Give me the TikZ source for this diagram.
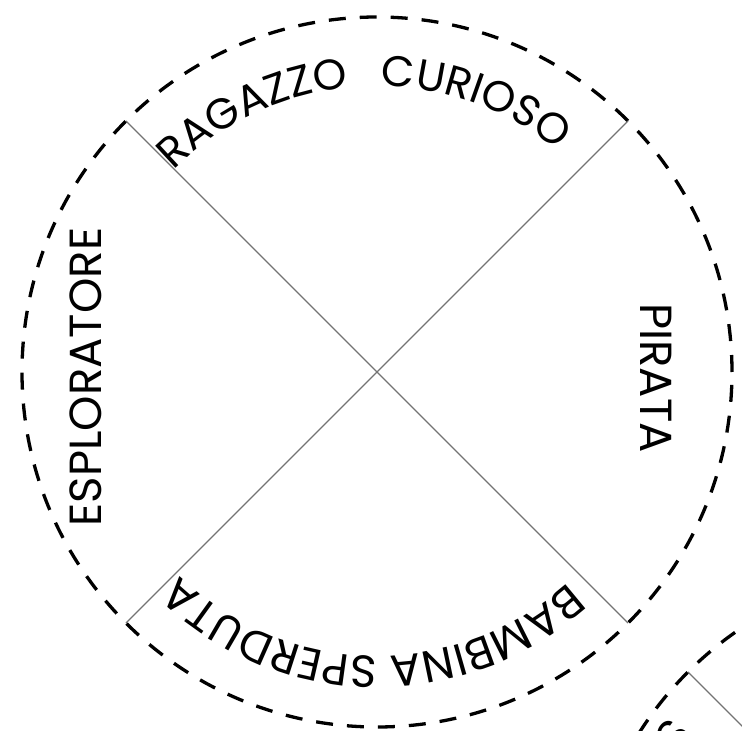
\documentclass[tikz,border=0pt]{standalone}
\usepackage{fontspec}
\newfontfamily\wheelfont{Poppins}
\newcommand{\namefont}{\wheelfont\fontsize{45}{49}\selectfont}
\newcommand{\topnamefont}{\wheelfont\fontsize{43}{47}\selectfont}
\usetikzlibrary{decorations.text}

\begin{document}
\begin{tikzpicture}[x=1pt, y=1pt, wheel/.style={draw, circle, dash pattern=on 17pt off 14pt, line width=3.3pt, minimum size=710pt, inner sep=0pt, outer sep=0pt}, spoke/.style={draw=black!55, line width=1.1pt}, rolename/.style={font=\namefont, inner sep=0pt}, arctext/.style 2 args={decorate, decoration={text along path, text align=center, text={|#1|#2}}}]
\useasboundingbox (-377,-359) rectangle (365,372);
\clip (-377,-359) rectangle (365,372);
\node[wheel] (wheel) at (0,0) {};
\draw[spoke] (wheel.135) -- (wheel.-45);
\draw[spoke] (wheel.45) -- (wheel.-135);
\path[arctext={\topnamefont}{RAGAZZO}] (145.5:286) arc[start angle=145.5, end angle=85.5, radius=286];
\path[arctext={\topnamefont}{CURIOSO}] (100:286) arc[start angle=100, end angle=40, radius=286];
\path[arctext={\namefont}{BAMBINA SPERDUTA}] (-46:284) arc[start angle=-46, end angle=-136, radius=284];
\node[rolename, rotate=90] (explorer) at (-291,-5) {ESPLORATORE};
\node[rolename, rotate=-90] (pirate) at (279,-6) {PIRATA};
% next wheel, only its corner shows
\node[wheel] (nextwheel) at (562,-551) {};
\draw[spoke] (nextwheel.135) -- (nextwheel.-45);
\node[rolename, rotate=54] (nextname) at (297,-364) {S};
\end{tikzpicture}
\end{document}
